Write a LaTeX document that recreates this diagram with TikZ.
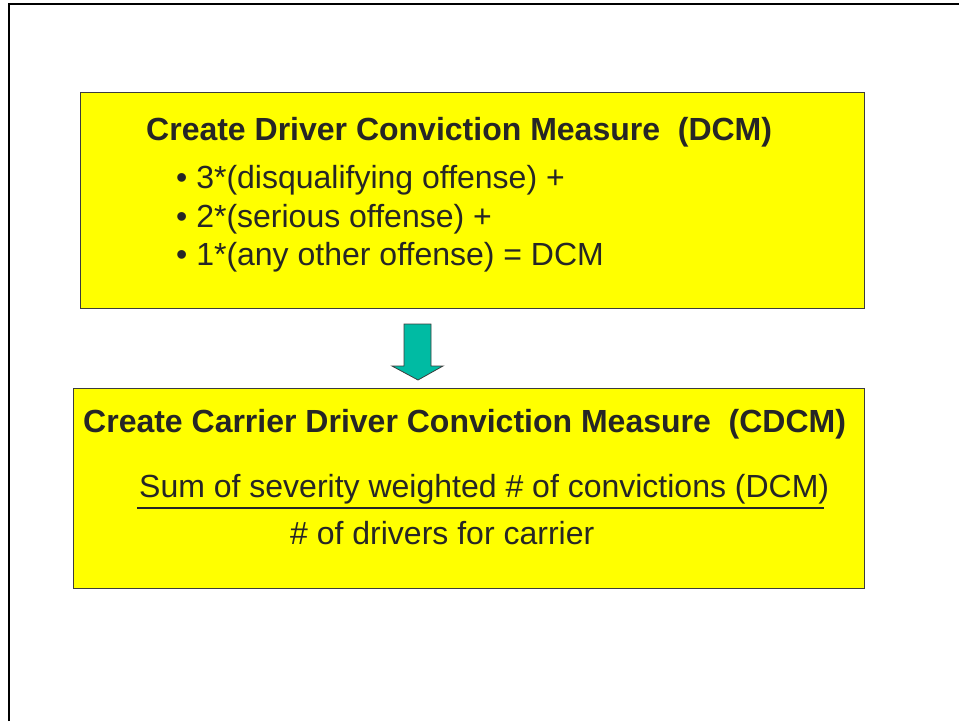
\documentclass[tikz,border=0pt]{standalone}
\usepackage{fontspec}
\setmainfont{Liberation Sans}
\definecolor{boxyellow}{RGB}{255,255,0}
\definecolor{arrowteal}{RGB}{0,187,163}
\definecolor{txt}{RGB}{38,38,38}
\definecolor{edge}{RGB}{60,60,60}
\begin{document}
\begin{tikzpicture}[x=1pt,y=-1pt,
  panel/.style={draw=edge,line width=1pt,fill=boxyellow},
  heading/.style={anchor=base west,inner sep=0pt,text=txt,font=\fontsize{32}{38}\selectfont\bfseries},
  body/.style={anchor=base west,inner sep=0pt,text=txt,font=\fontsize{32}{38}\selectfont},
  frame/.style={line width=2pt,black}]
\useasboundingbox (0,0) rectangle (959,721);
\draw[frame] (9,721) -- (9,4) -- (959,4);
% top box
\path[panel] (80,92) rectangle (864,308);
\node[heading] (t1) at (146,140) {Create Driver Conviction Measure\ \ (DCM)};
\node[body] (b1) at (176,188) {\textbullet\ 3*(disqualifying offense) +};
\node[body] (b2) at (176,227) {\textbullet\ 2*(serious offense) +};
\node[body] (b3) at (176,265) {\textbullet\ 1*(any other offense) = DCM};
% arrow
\draw[draw=edge,line width=0.8pt,fill=arrowteal] (404,324) -- (431,324) -- (431,366) -- (443,366) -- (418,380) -- (392,366) -- (404,366) -- cycle;
% bottom box
\path[panel] (73,388) rectangle (864,588);
\node[heading] (t2) at (83,432) {Create Carrier Driver Conviction Measure\ \ (CDCM)};
\node[body] (num) at (139,497) {Sum of severity weighted \# of convictions (DCM)};
\draw[txt,line width=1.2pt] (137,508) -- (824,508);
\node[body] (den) at (290,544) {\# of drivers for carrier};
\end{tikzpicture}
\end{document}
